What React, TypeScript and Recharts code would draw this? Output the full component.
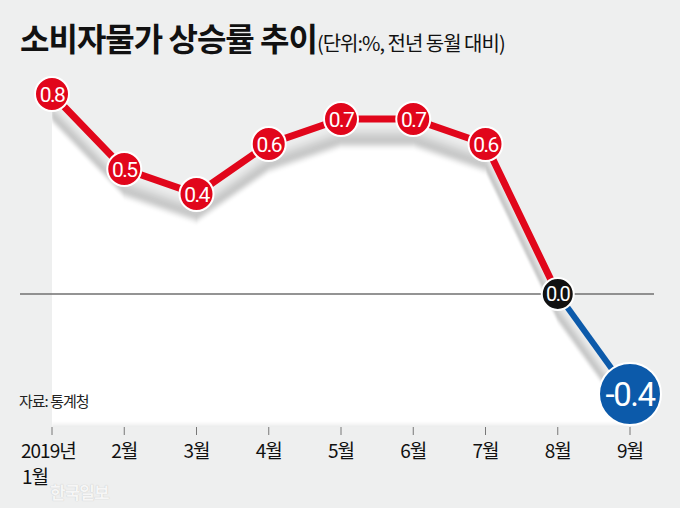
import React from "react";
import { ComposedChart, Area, Line, XAxis, YAxis, ReferenceLine } from "recharts";

const months = ["1월", "2월", "3월", "4월", "5월", "6월", "7월", "8월", "9월"];
const rates = [0.8, 0.5, 0.4, 0.6, 0.7, 0.7, 0.6, 0.0, -0.4];
const yearLabel = "2019년";

const RED = "#e1061b";
const BLUE = "#0c5aaa";
const BG = "#eeefef";
const NUM_FONT = "Roboto, 'Liberation Sans', sans-serif";
const KR_FONT = "'Noto Sans CJK KR', sans-serif";

// red runs Jan-Aug, blue runs Aug-Sep
const chartData = months.map((m, i) => ({
  month: m,
  rate: rates[i],
  up: i <= 7 ? rates[i] : null,
  down: i >= 7 ? rates[i] : null,
}));

const Bubble = ({ cx, cy, r, fill, value, fontSize }: any) => (
  <g>
    <circle cx={cx} cy={cy} r={r} fill={fill} stroke="#fff" strokeWidth={2} />
    <text
      x={cx}
      y={cy}
      dy="0.36em"
      textAnchor="middle"
      fill="#fff"
      fontSize={fontSize}
      fontFamily={NUM_FONT}
      letterSpacing={-1.5}
    >
      {value.toFixed(1)}
    </text>
  </g>
);

const redDot = (props: any) => {
  const { cx, cy, index } = props;
  if (index > 6 || cx == null || cy == null) return <g key={`r-${index}`} />;
  return <Bubble key={`r-${index}`} cx={cx} cy={cy} r={17} fill={RED} value={rates[index]} fontSize={21} />;
};

const blueDot = (props: any) => {
  const { cx, cy, index } = props;
  if (index < 7 || cx == null || cy == null) return <g key={`b-${index}`} />;
  if (index === 7)
    return <Bubble key={`b-${index}`} cx={cx} cy={cy} r={16} fill="#111" value={rates[index]} fontSize={20} />;
  return <Bubble key={`b-${index}`} cx={cx} cy={cy} r={31} fill={BLUE} value={rates[index]} fontSize={33} />;
};

const MonthTick = ({ x, y, payload, index }: any) => {
  const style = { fontSize: 19, fontFamily: KR_FONT, fill: "#111", letterSpacing: -1 };
  if (index === 0) {
    // first tick carries the year on its own line
    return (
      <text x={x - 31} y={y + 21} textAnchor="start" {...style}>
        <tspan x={x - 31}>{yearLabel}</tspan>
        <tspan x={x - 30} dy={26}>
          {payload.value}
        </tspan>
      </text>
    );
  }
  return (
    <text x={x} y={y + 21} textAnchor="middle" {...style}>
      {payload.value}
    </text>
  );
};

export default function App() {
  return (
    <div
      style={{
        position: "absolute",
        left: 0,
        top: 0,
        width: 680,
        height: 508,
        background: BG,
        overflow: "hidden",
        fontFamily: KR_FONT,
      }}
    >
      <style>{`.paper { filter: url(#paper); }`}</style>
      <div style={{ position: "absolute", left: 20, top: 14, whiteSpace: "nowrap", color: "#111" }}>
        <span style={{ fontSize: 32, fontWeight: 700, letterSpacing: -1 }}>소비자물가 상승률 추이</span>
        <span style={{ fontSize: 20, letterSpacing: -1 }}>(단위:%, 전년 동월 대비)</span>
      </div>
      <ComposedChart
        width={680}
        height={508}
        data={chartData}
        margin={{ top: 69, right: 26, left: 20, bottom: 0 }}
        style={{ position: "absolute", left: 0, top: 0 }}
      >
        <defs>
          <filter
            id="paper"
            filterUnits="userSpaceOnUse"
            x={52}
            y={0}
            width={628}
            height={427}
            colorInterpolationFilters="sRGB"
          >
            <feOffset in="SourceAlpha" dx={0} dy={15} result="sOff" />
            <feGaussianBlur in="sOff" stdDeviation="1 6" result="sBlur" />
            <feColorMatrix
              in="sBlur"
              type="matrix"
              values="0 0 0 0 0  0 0 0 0 0  0 0 0 0 0  0 0 0 0.2 0"
              result="shadow"
            />
            <feOffset in="SourceGraphic" dx={0} dy={26} result="wOff" />
            <feGaussianBlur in="wOff" stdDeviation="0.5 3" result="white" />
            <feMerge>
              <feMergeNode in="shadow" />
              <feMergeNode in="white" />
            </feMerge>
          </filter>
        </defs>
        <XAxis
          dataKey="month"
          padding={{ left: 32, right: 24 }}
          axisLine={false}
          tickLine={{ stroke: "#777" }}
          tickSize={8}
          height={81}
          interval={0}
          tick={<MonthTick />}
        />
        <YAxis hide type="number" domain={[-0.532, 0.9]} allowDataOverflow />
        <Area
          className="paper"
          dataKey="rate"
          type="linear"
          fill="#fff"
          fillOpacity={1}
          stroke="none"
          baseValue="dataMin"
          dot={false}
          activeDot={false}
          isAnimationActive={false}
        />
        <ReferenceLine y={0} stroke="#707070" strokeWidth={1.5} />
        <Line
          dataKey="up"
          type="linear"
          stroke={RED}
          strokeWidth={7}
          dot={redDot}
          activeDot={false}
          connectNulls={false}
          isAnimationActive={false}
        />
        <Line
          dataKey="down"
          type="linear"
          stroke={BLUE}
          strokeWidth={6}
          dot={blueDot}
          activeDot={false}
          connectNulls={false}
          isAnimationActive={false}
        />
      </ComposedChart>
      <div style={{ position: "absolute", left: 19, top: 390, fontSize: 15, color: "#222", letterSpacing: -1 }}>
        자료: 통계청
      </div>
      <div
        style={{
          position: "absolute",
          left: 50,
          top: 482,
          fontSize: 17,
          lineHeight: "20px",
          fontWeight: 700,
          color: "#f6f6f6",
          textShadow: "0 0 1px #b8b8b8",
          letterSpacing: -1,
        }}
      >
        한국일보
      </div>
    </div>
  );
}
